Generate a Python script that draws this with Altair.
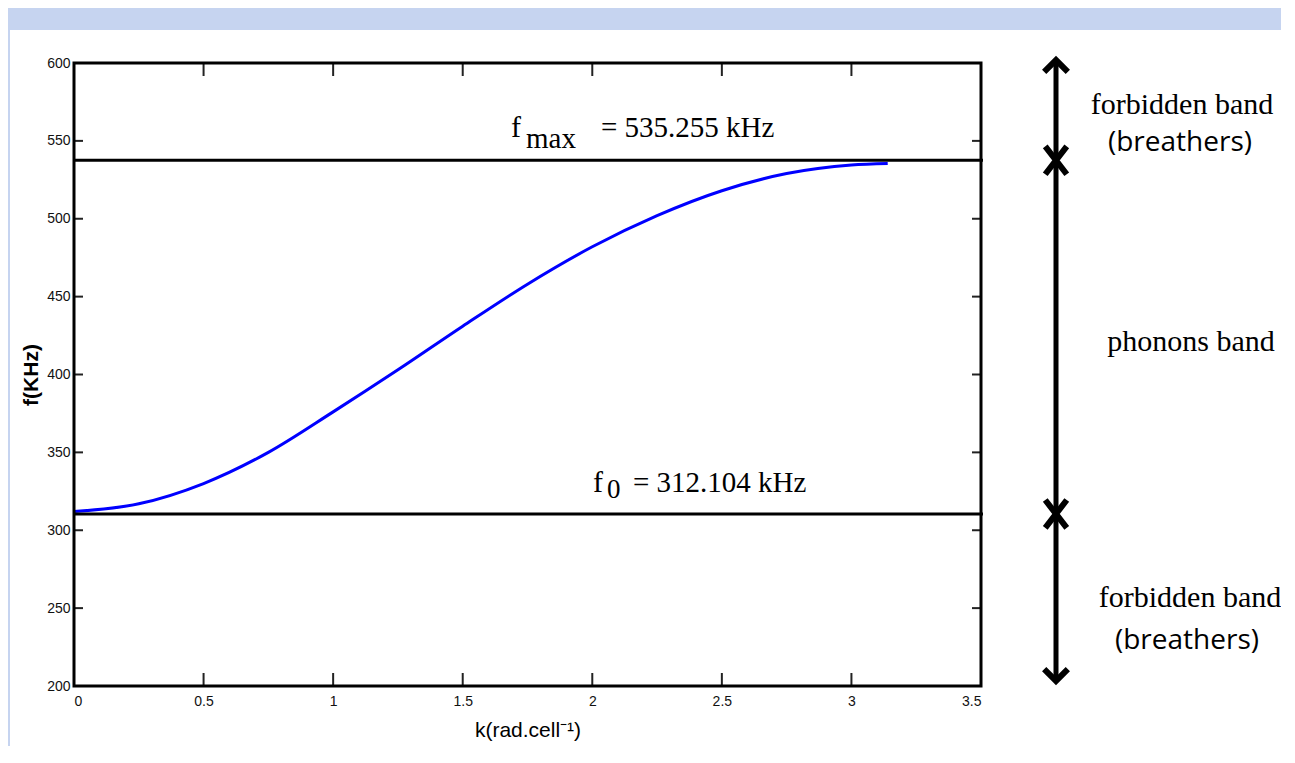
import altair as alt
import pandas as pd

# ---- data ----
k_vals = [0.0, 0.25, 0.5, 0.75, 1.0, 1.25, 1.5, 1.75, 2.0, 2.25, 2.5, 2.75, 3.0, 3.14]
f_vals = [312.0, 317.0, 330.0, 350.0, 376.0, 403.0, 431.0, 458.0, 482.0, 502.0, 518.0, 529.0, 534.5, 535.5]

band_names = ["f_max", "f_0"]
band_levels = [537.5, 310.5]

x_ticks = [0, 0.5, 1, 1.5, 2, 2.5, 3, 3.5]
y_ticks = [200, 250, 300, 350, 400, 450, 500, 550, 600]

W, H = 907, 623
SERIF = "Liberation Serif, Times New Roman, serif"
SANS = "Liberation Sans, Arial, sans-serif"
NARROW = "Liberation Sans Narrow, Liberation Sans, Arial, sans-serif"

xs = alt.Scale(domain=[0, 3.5], nice=False, zero=False)
ys = alt.Scale(domain=[200, 600], nice=False, zero=False)

one = alt.Data(values=[{"a": 1}])

curve_df = pd.DataFrame({"k": k_vals, "f": f_vals})
band_df = pd.DataFrame({"name": band_names, "f": band_levels})
xt_df = pd.DataFrame({"v": x_ticks[1:-1]})
yt_df = pd.DataFrame({"v": y_ticks[1:-1]})

# decorative background strips
strip_top = alt.Chart(one).mark_rect(color="#c6d4f0").encode(
    x=alt.value(-80), x2=alt.value(1300), y=alt.value(-70), y2=alt.value(-33))
strip_left = alt.Chart(one).mark_rect(color="#c6d4f0").encode(
    x=alt.value(-80), x2=alt.value(-64), y=alt.value(-70), y2=alt.value(720))

# axes (labels only)
base = alt.Chart(curve_df).mark_line(color="#0000ff", strokeWidth=3, interpolate="monotone").encode(
    x=alt.X("k:Q", scale=xs, title=None,
            axis=alt.Axis(values=x_ticks, format="~g", domain=False, ticks=False, grid=False,
                          labelPadding=8, labelFont=NARROW, labelFontSize=14,
                          labelColor="#111111")),
    y=alt.Y("f:Q", scale=ys, title=None,
            axis=alt.Axis(values=y_ticks, domain=False, ticks=False, grid=False,
                          labelPadding=4, labelFont=NARROW, labelFontSize=14,
                          labelColor="#111111")),
)

bands = alt.Chart(band_df).mark_rule(color="black", strokeWidth=3).encode(
    y=alt.Y("f:Q", scale=ys), x=alt.value(0), x2=alt.value(W + 2))

# inward ticks on all four sides
tb = alt.Chart(xt_df).mark_rule(color="#222", strokeWidth=2).encode(
    x=alt.X("v:Q", scale=xs), y=alt.value(H), y2=alt.value(H - 13))
tt = alt.Chart(xt_df).mark_rule(color="#222", strokeWidth=2).encode(
    x=alt.X("v:Q", scale=xs), y=alt.value(0), y2=alt.value(13))
tl = alt.Chart(yt_df).mark_rule(color="#222", strokeWidth=2).encode(
    y=alt.Y("v:Q", scale=ys), x=alt.value(0), x2=alt.value(9))
tr = alt.Chart(yt_df).mark_rule(color="#222", strokeWidth=2).encode(
    y=alt.Y("v:Q", scale=ys), x=alt.value(W), x2=alt.value(W - 9))

frame = alt.Chart(one).mark_rect(fill=None, stroke="black", strokeWidth=3).encode(
    x=alt.value(0), x2=alt.value(W), y=alt.value(0), y2=alt.value(H))


def txt(s, px, py, size, font=SERIF, align="left", angle=0, weight="normal"):
    return alt.Chart(one).mark_text(
        text=s, font=font, fontSize=size, align=align, baseline="alphabetic",
        color="black", angle=angle, fontWeight=weight).encode(
        x=alt.value(px - 74), y=alt.value(py - 63))


labels = [
    txt("f", 511, 137, 30),
    txt("max", 526, 148, 29),
    txt("= 535.255 kHz", 601, 137, 29),
    txt("f", 593, 492, 30),
    txt("0", 607, 498, 27),
    txt("= 312.104 kHz", 633, 492, 29),
    txt("forbidden band", 1182, 114, 30, align="center"),
    txt("(breathers)", 1180, 151, 28, font="Open Sans", align="center"),
    txt("phonons band", 1191, 351, 30, align="center"),
    txt("forbidden band", 1190, 607, 30, align="center"),
    txt("(breathers)", 1187, 649, 28, font="Open Sans", align="center"),
    txt("k(rad.cell\u207b\u00b9)", 528, 737, 21, font=SANS, align="center"),
    txt("f(KHz)", 38, 375, 21, font=SANS, align="center", angle=270, weight="bold"),
]

# vertical arrow with markers
AX = 1056 - 74
arrow = alt.Chart(one).mark_rule(color="black", strokeWidth=5).encode(
    x=alt.value(AX), y=alt.value(58 - 63 + 2), y2=alt.value(683 - 63 - 2))
head_up = alt.Chart(one).mark_point(shape="M-1,0.5L0,-0.5L1,0.5", filled=False, color="black",
                                    strokeWidth=6, size=560, opacity=1).encode(
    x=alt.value(AX), y=alt.value(58 - 63 + 8))
head_dn = alt.Chart(one).mark_point(shape="M-1,-0.5L0,0.5L1,-0.5", filled=False, color="black",
                                    strokeWidth=6, size=560, opacity=1).encode(
    x=alt.value(AX), y=alt.value(683 - 63 - 8))
crosses = alt.Chart(band_df).mark_point(shape="M-0.85,-1.1L0.85,1.1M-0.85,1.1L0.85,-1.1", filled=False,
                                        color="black", strokeWidth=6, size=640, opacity=1).encode(
    x=alt.value(AX), y=alt.Y("f:Q", scale=ys))

chart = alt.layer(
    strip_top, strip_left, base, bands, tb, tt, tl, tr, frame, arrow, head_up, head_dn, crosses, *labels
).properties(
    width=W, height=H,
    autosize=alt.AutoSizeParams(type="none"),
    padding={"left": 66, "top": 55, "right": 300, "bottom": 60},
    background="white",
).configure_view(stroke=None)

chart.save("out.html", embed_options={"renderer": "svg", "actions": False})
